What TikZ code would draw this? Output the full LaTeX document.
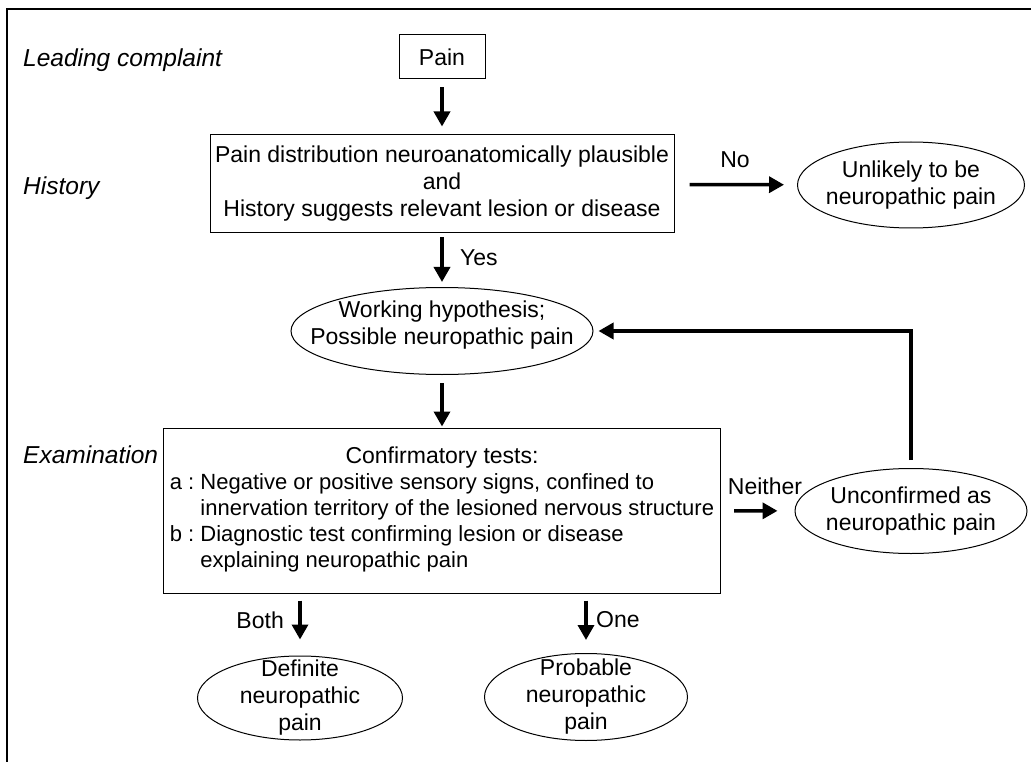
\documentclass[tikz,border=0pt]{standalone}
\usepackage{fontspec}
\setmainfont{Liberation Sans}
\usepackage{tikz}
\usetikzlibrary{arrows.meta,positioning,shapes.geometric}

\tikzset{
  every node/.append style={font=\fontsize{23}{27}\selectfont},
  box/.style={draw,line width=1pt,inner sep=0pt,align=center},
  oval/.style={draw,ellipse,line width=1pt,inner sep=0pt},
  ovaltext/.style={align=center,inner sep=0pt},
  steplabel/.style={font=\fontsize{24.5}{27}\selectfont\itshape,anchor=west,inner sep=0pt},
  branch/.style={inner sep=0pt},
  flow/.style={line width=3.5pt,-{Triangle[length=15pt,width=16pt]}}
}

\begin{document}
\begin{tikzpicture}[x=1pt,y=-1pt]
        \useasboundingbox (0,0) rectangle (1031,762);
        % frame
        \draw[line width=1.6pt] (7,762) -- (7,9) -- (1031,9);

        % stage labels
        \node[steplabel] (lead) at (23,60) {Leading complaint};
        \node[steplabel] (histlbl) at (23,188) {History};
        \node[steplabel] (examlbl) at (23,455) {Examination};

        % boxes
        \node[box,minimum width=86,minimum height=44] (pain) at (442,57) {Pain};
        \node[box,minimum width=464,minimum height=98] (hist) at (442,184)
          {Pain distribution neuroanatomically plausible\\and\\
           History suggests relevant lesion or disease};
        \node[box,minimum width=557,minimum height=165] (conf) at (442,510.5){%
          \fontsize{22}{26}\selectfont
          \begin{tabular}{@{}l@{\ }l@{}}
            \multicolumn{2}{c}{\fontsize{23}{26}\selectfont Confirmatory tests:}\\
            a :& Negative or positive sensory signs, confined to\\
               & innervation territory of the lesioned nervous structure\\
            b :& Diagnostic test confirming lesion or disease\\
               & explaining neuropathic pain
          \end{tabular}};

        % ovals
        \node[oval,minimum width=227,minimum height=86] (unlikely) at (911,185) {};
        \node[ovaltext] (unlikelytxt) at (unlikely) {Unlikely to be\\neuropathic pain};
        \node[oval,minimum width=302,minimum height=87] (work) at (442,331) {};
        \node[ovaltext] (worktxt) at ([yshift=6pt]work.center)
          {Working hypothesis;\\Possible neuropathic pain};
        \node[oval,minimum width=232,minimum height=85] (unconf) at (911,511) {};
        \node[ovaltext] (unconftxt) at (unconf) {Unconfirmed as\\neuropathic pain};
        \node[oval,minimum width=205,minimum height=84] (def) at (300,698) {};
        \node[ovaltext] (deftxt) at (def) {Definite\\neuropathic\\pain};
        \node[oval,minimum width=203,minimum height=87] (prob) at (586,697) {};
        \node[ovaltext] (probtxt) at (prob) {Probable\\neuropathic\\pain};

        % branch labels
        \node[branch] (lno) at (735,160) {No};
        \node[branch,anchor=west] (lyes) at (460,258) {Yes};
        \node[branch] (lneither) at (765,486) {Neither};
        \node[branch,anchor=east] (lboth) at (284,620) {Both};
        \node[branch,anchor=west] (lone) at (596,620) {One};

        % arrows
        \draw[flow,shorten <=8pt,shorten >=8pt] (pain) -- (hist);
        \draw[flow,shorten <=15pt,shorten >=13pt] (hist) -- (unlikely);
        \draw[flow,shorten <=4pt,shorten >=5pt] (hist) -- (work);
        \draw[flow,shorten <=8pt,shorten >=1pt] (work) -- (conf);
        \draw[flow,shorten <=13pt,shorten >=17pt] (conf) -- (unconf);
        \draw[flow,shorten <=8pt,shorten >=5pt] (unconf.north) |- (work.east);
        \draw[flow,shorten <=7pt,shorten >=16pt] (def |- conf.south) -- (def);
        \draw[flow,shorten <=7pt,shorten >=13pt] (prob |- conf.south) -- (prob);
      \end{tikzpicture}
\end{document}
